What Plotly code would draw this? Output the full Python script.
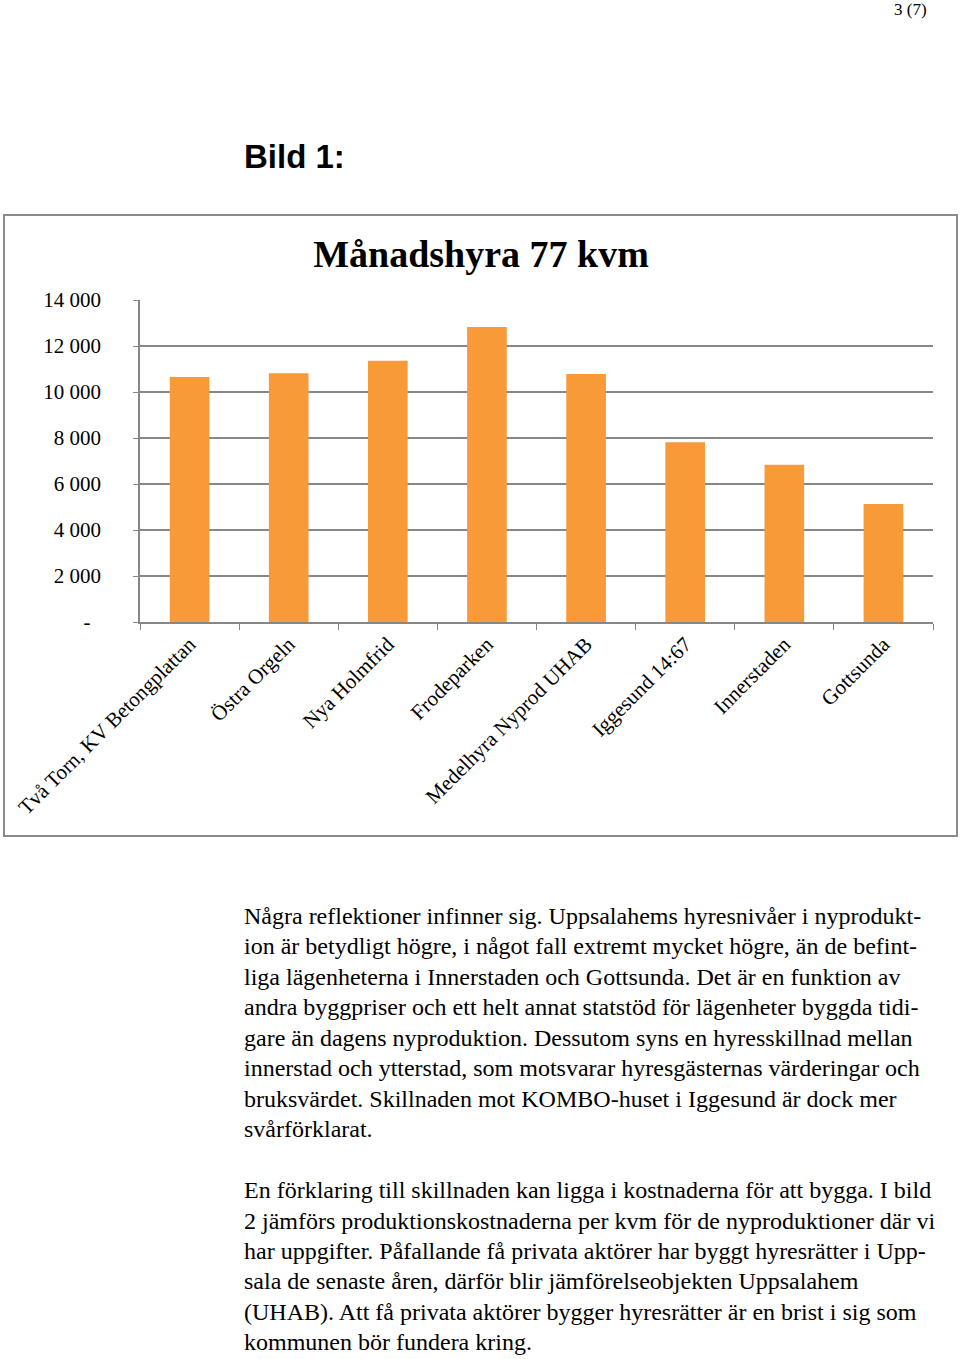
import plotly.graph_objects as go

W, H = 960, 1359

# chart data
areas = [
    "Två Torn, KV Betongplattan",
    "Östra Orgeln",
    "Nya Holmfrid",
    "Frodeparken",
    "Medelhyra Nyprod UHAB",
    "Iggesund 14:67",
    "Innerstaden",
    "Gottsunda",
]
rent = [10650, 10810, 11360, 12830, 10780, 7810, 6840, 5130]

y_ticks = [0, 2000, 4000, 6000, 8000, 10000, 12000, 14000]
y_ticktext = ["-\u00a0\u00a0", "2 000", "4 000", "6 000", "8 000", "10 000", "12 000", "14 000"]

chart_title = "Månadshyra 77 kvm"
page_heading = "Bild 1:"
page_number = "3 (7)"

body_lines = [
    "Några reflektioner infinner sig. Uppsalahems hyresnivåer i nyprodukt-",
    "ion är betydligt högre, i något fall extremt mycket högre, än de befint-",
    "liga lägenheterna i Innerstaden och Gottsunda. Det är en funktion av",
    "andra byggpriser och ett helt annat statstöd för lägenheter byggda tidi-",
    "gare än dagens nyproduktion. Dessutom syns en hyresskillnad mellan",
    "innerstad och ytterstad, som motsvarar hyresgästernas värderingar och",
    "bruksvärdet. Skillnaden mot KOMBO-huset i Iggesund är dock mer",
    "svårförklarat.",
    "",
    "En förklaring till skillnaden kan ligga i kostnaderna för att bygga. I bild",
    "2 jämförs produktionskostnaderna per kvm för de nyproduktioner där vi",
    "har uppgifter. Påfallande få privata aktörer har byggt hyresrätter i Upp-",
    "sala de senaste åren, därför blir jämförelseobjekten Uppsalahem",
    "(UHAB). Att få privata aktörer bygger hyresrätter är en brist i sig som",
    "kommunen bör fundera kring.",
]


def px(x):
    return x / W


def py(y):
    return 1 - y / H


SERIF = "Liberation Serif, Times New Roman, serif"
GRID = "#878787"

fig = go.Figure(
    go.Bar(x=areas, y=rent, marker=dict(color="#F89A38", line=dict(width=0)), width=0.4)
)

fig.update_layout(
    width=W,
    height=H,
    margin=dict(l=0, r=0, t=0, b=0, autoexpand=False),
    paper_bgcolor="white",
    plot_bgcolor="white",
    showlegend=False,
    font=dict(family=SERIF, color="black"),
    title=dict(
        text=chart_title,
        x=px(481),
        xanchor="center",
        y=py(254),
        yanchor="middle",
        font=dict(family=SERIF, size=38, color="black", weight="bold"),
    ),
)

fig.update_xaxes(
    domain=[px(140), px(933)],
    type="category",
    automargin=False,
    tickangle=-45,
    tickson="boundaries",
    ticks="outside",
    ticklen=6,
    tickcolor=GRID,
    showline=True,
    linecolor=GRID,
    linewidth=1.5,
    showgrid=False,
    tickfont=dict(family=SERIF, size=21, color="black"),
)

fig.update_yaxes(
    domain=[py(622), py(300)],
    range=[0, 14000],
    automargin=False,
    tickvals=y_ticks,
    ticktext=y_ticktext,
    ticks="outside",
    ticklen=5,
    tickcolor=GRID,
    showline=True,
    linecolor=GRID,
    linewidth=1.5,
    showgrid=True,
    gridcolor=GRID,
    gridwidth=1.5,
    zeroline=False,
    ticklabelstandoff=28,
    tickfont=dict(family=SERIF, size=21, color="black"),
)

# chart frame
fig.add_shape(
    type="rect", xref="paper", yref="paper",
    x0=px(4), x1=px(957), y0=py(836), y1=py(215),
    line=dict(color="#8a8a8a", width=2), layer="below",
)

# page text
fig.add_annotation(
    text=page_number, xref="paper", yref="paper", x=px(929), y=py(9),
    xanchor="right", yanchor="middle", showarrow=False,
    font=dict(family=SERIF, size=17, color="black"),
)
fig.add_annotation(
    text=page_heading, xref="paper", yref="paper", x=px(242), y=py(157),
    xanchor="left", yanchor="middle", showarrow=False,
    font=dict(family="Liberation Sans, Arial, sans-serif", size=33, color="black", weight="bold"),
)

y0, step = 916, 30.45
for i, line in enumerate(body_lines):
    if not line:
        continue
    fig.add_annotation(
        text=line, xref="paper", yref="paper", x=px(242), y=py(y0 + i * step),
        xanchor="left", yanchor="middle", showarrow=False,
        font=dict(family=SERIF, size=24, color="black"),
    )

# the page is a fixed-size sheet, so drop the browser's default body margin
fig.write_html(
    "out.html",
    config={"displayModeBar": False},
    post_script="document.body.style.margin = '0';",
)
